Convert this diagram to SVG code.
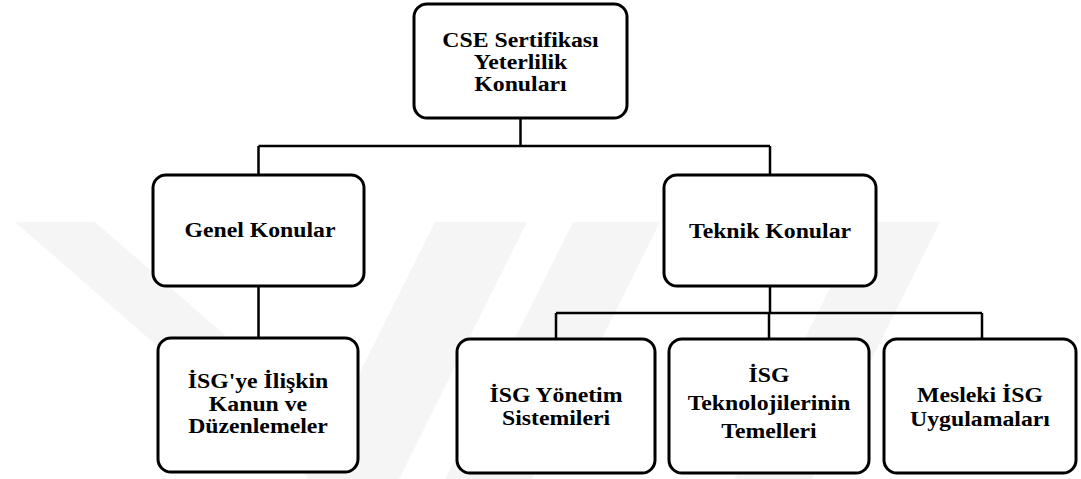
<svg xmlns="http://www.w3.org/2000/svg" width="1081" height="479" viewBox="0 0 1081 479">
<style>
.box{fill:#fff;stroke:#000;stroke-width:3}
text{font-family:"Liberation Serif","Times New Roman",Times,serif;font-weight:700;font-size:22px;fill:#000;text-anchor:middle}
.wm{fill:#f5f5f5}
.cn{fill:none;stroke:#000;stroke-width:2.5}
</style>
<rect width="1081" height="479" fill="#fff"/>
<g id="watermark">
<polygon class="wm" points="15,222 95,222 390,479 310,479"/>
<polygon class="wm" points="435,222 527,222 399,479 307,479"/>
<polygon class="wm" points="573,222 660,222 532,479 445,479"/>
<polygon class="wm" points="863,222 940,222 812,479 735,479"/>
</g>
<g id="connectors">
<path class="cn" d="M520.5,118 V146 M258.5,146 H770 M258.5,146 V175 M770,146 V175"/>
<path class="cn" d="M258.5,286 V338"/>
<path class="cn" d="M770,286 V313 M556,313 H982 M556,313 V339 M769,313 V339 M982,313 V339"/>
</g>
<g id="n-root">
<rect class="box" x="414" y="4" width="213" height="114" rx="13"/>
<g transform="translate(520.5,0) scale(1.08,1)">
<text x="0" y="47">CSE Sertifikası</text>
<text x="0" y="69">Yeterlilik</text>
<text x="0" y="91">Konuları</text>
</g>
</g>
<g id="n-genel">
<rect class="box" x="153" y="175" width="211" height="111" rx="13"/>
<g transform="translate(260,0) scale(1.08,1)">
<text x="0" y="237">Genel Konular</text>
</g>
</g>
<g id="n-teknik">
<rect class="box" x="664" y="175" width="212" height="111" rx="13"/>
<g transform="translate(770,0) scale(1.08,1)">
<text x="0" y="238">Teknik Konular</text>
</g>
</g>
<g id="n-kanun">
<rect class="box" x="158" y="338" width="200" height="134" rx="13"/>
<g transform="translate(258,0) scale(1.08,1)">
<text x="0" y="388">İSG'ye İlişkin</text>
<text x="0" y="411">Kanun ve</text>
<text x="0" y="433">Düzenlemeler</text>
</g>
</g>
<g id="n-yonetim">
<rect class="box" x="457" y="339" width="198" height="134" rx="13"/>
<g transform="translate(556,0) scale(1.08,1)">
<text x="0" y="402">İSG Yönetim</text>
<text x="0" y="425">Sistemileri</text>
</g>
</g>
<g id="n-teknoloji">
<rect class="box" x="669" y="339" width="200" height="134" rx="13"/>
<g transform="translate(769,0) scale(1.08,1)">
<text x="0" y="382">İSG</text>
<text x="0" y="410">Teknolojilerinin</text>
<text x="0" y="438">Temelleri</text>
</g>
</g>
<g id="n-mesleki">
<rect class="box" x="884" y="339" width="192" height="134" rx="13"/>
<g transform="translate(980,0) scale(1.08,1)">
<text x="0" y="402">Mesleki İSG</text>
<text x="0" y="426">Uygulamaları</text>
</g>
</g>
</svg>
